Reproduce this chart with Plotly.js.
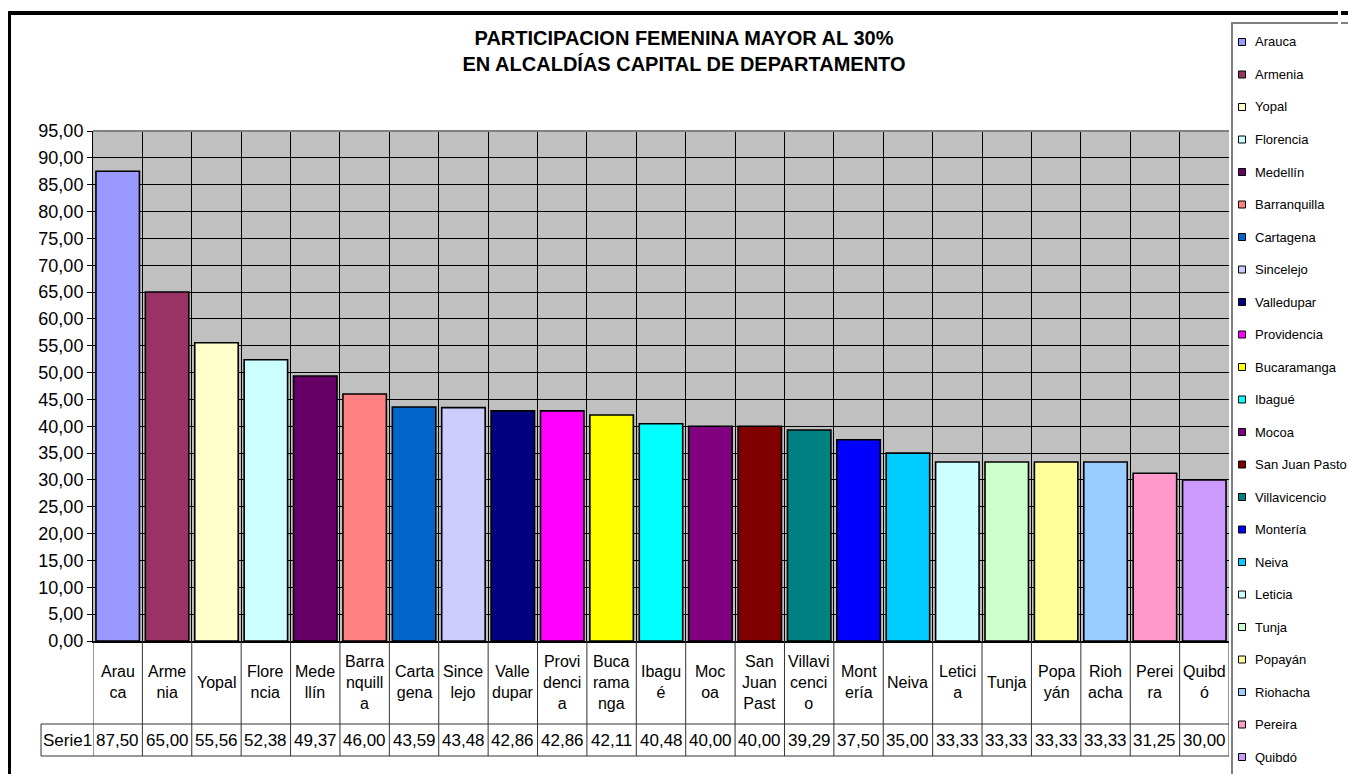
<!DOCTYPE html>
<html>
<head>
<meta charset="utf-8">
<script src="https://cdn.plot.ly/plotly-3.0.1.min.js"></script>
<style>
  html, body { margin: 0; padding: 0; background: #fff; }
  #chart { width: 1348px; height: 774px; }
</style>
</head>
<body>
<div id="chart"></div>
<script>
// ---- data ----
const cities = ["Arauca","Armenia","Yopal","Florencia","Medellín","Barranquilla","Cartagena","Sincelejo","Valledupar","Providencia","Bucaramanga","Ibagué","Mocoa","San Juan Pasto","Villavicencio","Montería","Neiva","Leticia","Tunja","Popayán","Riohacha","Pereira","Quibdó"];
const values = [87.50, 65.00, 55.56, 52.38, 49.37, 46.00, 43.59, 43.48, 42.86, 42.86, 42.11, 40.48, 40.00, 40.00, 39.29, 37.50, 35.00, 33.33, 33.33, 33.33, 33.33, 31.25, 30.00];
const colors = ["#9999FF","#993366","#FFFFCC","#CCFFFF","#660066","#FF8080","#0066CC","#CCCCFF","#000080","#FF00FF","#FFFF00","#00FFFF","#800080","#800000","#008080","#0000FF","#00CCFF","#CCFFFF","#CCFFCC","#FFFF99","#99CCFF","#FF99CC","#CC99FF"];
const tableLabels = ["Arau<br>ca","Arme<br>nia","Yopal","Flore<br>ncia","Mede<br>llín","Barra<br>nquill<br>a","Carta<br>gena","Since<br>lejo","Valle<br>dupar","Provi<br>denci<br>a","Buca<br>rama<br>nga","Ibagu<br>é","Moc<br>oa","San<br>Juan<br>Past","Villavi<br>cenci<br>o","Mont<br>ería","Neiva","Letici<br>a","Tunja","Popa<br>yán","Rioh<br>acha","Perei<br>ra","Quibd<br>ó"];
const seriesName = "Serie1";
const titleText = "PARTICIPACION FEMENINA MAYOR AL 30%<br>EN ALCALDÍAS CAPITAL DE DEPARTAMENTO";

// ---- layout geometry (pixels) ----
const W = 1348, H = 774;
const PL = 93, PR = 1229, PT = 131, PB = 641;
const px = x => (x - PL) / (PR - PL);
const py = y => (PB - y) / (PB - PT);
const FONT = "Arial, 'Liberation Sans', sans-serif";

const trace = {
  type: "bar",
  x: cities,
  y: values,
  name: seriesName,
  marker: { color: colors, line: { color: "#000000", width: 1.6 } },
  showlegend: false,
  hovertemplate: "%{x}: %{y:.2f}<extra></extra>"
};

const shapes = [];
const annotations = [];

// plot top border
shapes.push({ type: "line", xref: "paper", yref: "paper", x0: 0, x1: 1, y0: 1, y1: 1, line: { color: "#808080", width: 2 } });

// data table lines
for (let i = 0; i <= cities.length; i++) {
  shapes.push({ type: "line", xref: "x", yref: "paper", x0: i - 0.5, x1: i - 0.5, y0: py(756), y1: 0, line: { color: "#333", width: 1 } });
}
[724, 756].forEach(yy => shapes.push({ type: "line", xref: "paper", yref: "paper", x0: px(41), x1: 1, y0: py(yy), y1: py(yy), line: { color: "#333", width: 1 } }));
shapes.push({ type: "line", xref: "paper", yref: "paper", x0: px(41), x1: px(41), y0: py(724), y1: py(756), line: { color: "#333", width: 1 } });

// table text
cities.forEach((c, i) => {
  annotations.push({ xref: "x", yref: "paper", x: c, y: py(682), text: tableLabels[i], showarrow: false, xanchor: "center", yanchor: "middle", font: { family: FONT, size: 16, color: "#000" } });
  annotations.push({ xref: "x", yref: "paper", x: c, y: py(740), text: values[i].toFixed(2).replace(".", ","), showarrow: false, xanchor: "center", yanchor: "middle", font: { family: FONT, size: 17, color: "#000" } });
});
annotations.push({ xref: "paper", yref: "paper", x: px(67), y: py(740), text: seriesName, showarrow: false, xanchor: "center", yanchor: "middle", font: { family: FONT, size: 17, color: "#000" } });

// outer frame
shapes.push({ type: "rect", xref: "paper", yref: "paper", x0: px(8), x1: px(11), y0: py(774), y1: py(12), fillcolor: "#000", line: { width: 0 } });
shapes.push({ type: "rect", xref: "paper", yref: "paper", x0: px(8), x1: px(1338), y0: py(15), y1: py(11), fillcolor: "#000", line: { width: 0 } });
shapes.push({ type: "rect", xref: "paper", yref: "paper", x0: px(1341), x1: px(1348), y0: py(15), y1: py(11), fillcolor: "#000", line: { width: 0 } });
// legend border
shapes.push({ type: "rect", xref: "paper", yref: "paper", x0: px(1233), x1: px(1338), y0: py(24), y1: py(22), fillcolor: "#808080", line: { width: 0 } });
shapes.push({ type: "rect", xref: "paper", yref: "paper", x0: px(1341), x1: px(1348), y0: py(24), y1: py(22), fillcolor: "#808080", line: { width: 0 } });
shapes.push({ type: "rect", xref: "paper", yref: "paper", x0: px(1231), x1: px(1233), y0: py(774), y1: py(22), fillcolor: "#808080", line: { width: 0 } });

// legend entries
cities.forEach((c, i) => {
  const cy = 42 + i * 32.5;
  shapes.push({ type: "rect", xref: "paper", yref: "paper", x0: px(1238.5), x1: px(1245.5), y0: py(cy + 3.5), y1: py(cy - 3.5), fillcolor: colors[i], line: { color: "#000", width: 1 } });
  annotations.push({ xref: "paper", yref: "paper", x: px(1253), y: py(cy), text: c, showarrow: false, xanchor: "left", yanchor: "middle", font: { family: FONT, size: 13, color: "#000" } });
});

const layout = {
  width: W, height: H,
  margin: { l: PL, r: W - PR, t: PT, b: H - PB, pad: 0 },
  paper_bgcolor: "#ffffff",
  plot_bgcolor: "#C0C0C0",
  separators: ",.",
  bargap: 0.12,
  showlegend: false,
  title: {
    text: titleText,
    font: { family: FONT, size: 20, color: "#000", weight: "bold" },
    xref: "paper", x: px(684), xanchor: "center",
    yref: "container", y: 1 - 45 / H, yanchor: "top"
  },
  xaxis: {
    type: "category",
    range: [-0.5, cities.length - 0.5],
    tickson: "boundaries",
    showgrid: true, gridcolor: "#000", gridwidth: 1,
    showticklabels: false, ticks: "",
    showline: true, linecolor: "#000", linewidth: 2,
    zeroline: false, fixedrange: true
  },
  yaxis: {
    range: [0, 95], dtick: 5, tick0: 0,
    tickformat: ".2f",
    showgrid: true, gridcolor: "#000", gridwidth: 1,
    ticks: "outside", ticklen: 5, tickcolor: "#000",
    showline: true, linecolor: "#000", linewidth: 1,
    zeroline: false,
    tickfont: { family: FONT, size: 18, color: "#000" },
    fixedrange: true
  },
  shapes: shapes,
  annotations: annotations
};

Plotly.newPlot("chart", [trace], layout, { displayModeBar: false, staticPlot: false });
</script>
</body>
</html>
